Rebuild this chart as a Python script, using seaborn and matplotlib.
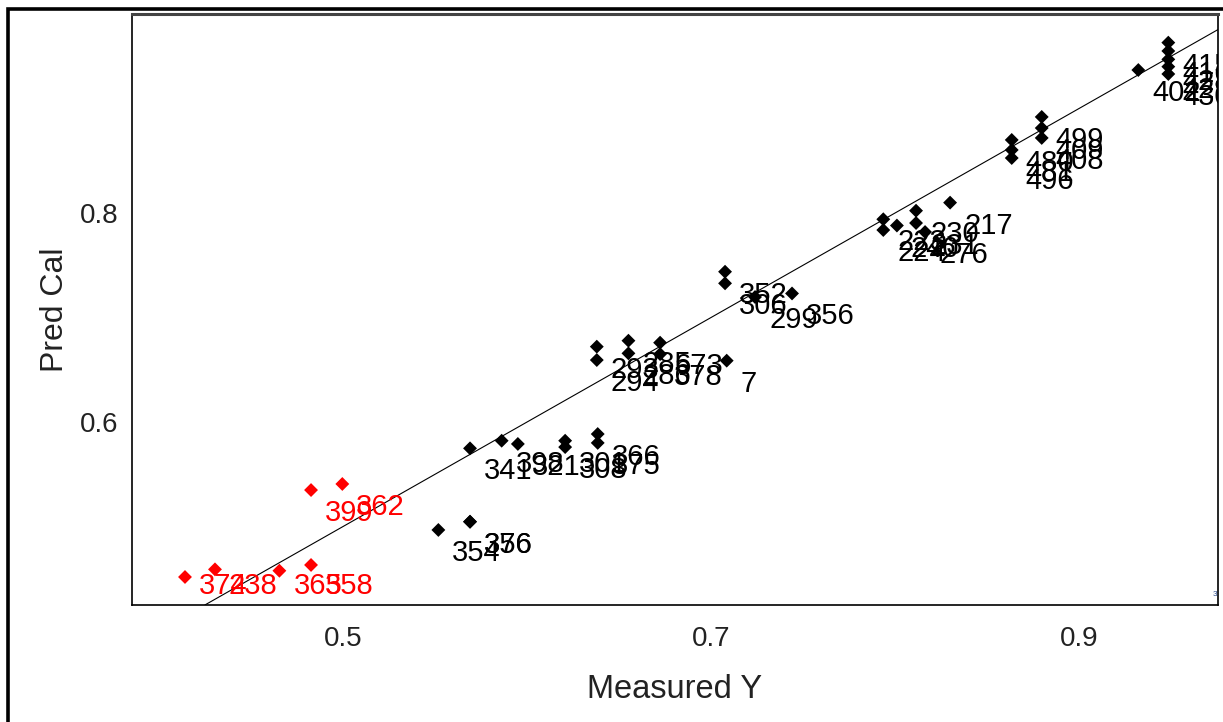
import numpy as np
import pandas as pd
import seaborn as sns
import matplotlib.pyplot as plt
from matplotlib.patches import Rectangle

# ---- data ----
measured = [0.4141, 0.4304, 0.4654, 0.4826, 0.4826, 0.4996,
            0.5518, 0.5690, 0.5690,
            0.5690, 0.5862, 0.5950, 0.6207, 0.6207, 0.6384, 0.6384,
            0.6379, 0.6379, 0.6551, 0.6551, 0.6723, 0.6723, 0.7085,
            0.7076, 0.7076, 0.7239, 0.7440,
            0.7936, 0.7936, 0.8114, 0.8114, 0.8163, 0.8299, 0.8010,
            0.8634, 0.8634, 0.8634, 0.8797, 0.8797, 0.8797,
            0.9322, 0.9485, 0.9485, 0.9485, 0.9485, 0.9485]
predicted = [0.4517, 0.4590, 0.4577, 0.4632, 0.5349, 0.5407,
             0.4967, 0.5046, 0.5046,
             0.5748, 0.5821, 0.5790, 0.5821, 0.5760, 0.5885, 0.5800,
             0.6721, 0.6593, 0.6778, 0.6657, 0.6759, 0.6650, 0.6587,
             0.7438, 0.7327, 0.7196, 0.7230,
             0.7940, 0.7837, 0.8022, 0.7904, 0.7818, 0.8099, 0.7880,
             0.8699, 0.8603, 0.8526, 0.8919, 0.8813, 0.8718,
             0.9368, 0.9630, 0.9550, 0.9470, 0.9400, 0.9330]
labels = ["374", "238", "365", "358", "399", "362",
          "354", "376", "356",
          "341", "398", "321", "301", "308", "366", "375",
          "293", "294", "285", "286", "673", "378", "7",
          "352", "306", "299", "356",
          "223", "224", "230", "231", "276", "217", "240",
          "480", "481", "496", "499", "409", "408",
          "402", "415", "416", "428", "429", "430"]
groups = ["outlier"] * 6 + ["calibration"] * 40

fit_slope = 1.0
fit_intercept = 0.0

x_major = [0.5, 0.7, 0.9]
x_minor = [0.4, 0.6, 0.8]
y_major = [0.6, 0.8]
y_minor = [0.5, 0.7, 0.9]
x_limits = (0.3853, 0.9755)
y_limits = (0.4249, 0.9904)

df = pd.DataFrame({"measured": measured, "predicted": predicted,
                   "label": labels, "group": groups})

sns.set_theme(style="white")
plt.rcParams["font.family"] = ["Liberation Sans", "DejaVu Sans"]

W, H = 1223, 722
fig = plt.figure(figsize=(W / 100, H / 100), dpi=100)
ax = fig.add_axes([132 / W, 1 - 605 / H, (1218 - 132) / W, (605 - 14) / H])

palette = {"calibration": "black", "outlier": "#ff0000"}
ax.axline((0, fit_intercept), slope=fit_slope, color="black", lw=0.8, zorder=2)
sns.scatterplot(data=df, x="measured", y="predicted", hue="group",
                palette=palette, marker="D", s=50, linewidth=0,
                legend=False, ax=ax, zorder=3)

ax.set_xlim(*x_limits)
ax.set_ylim(*y_limits)

# labels next to points (pixel offsets, kept inside the plot area)
fig.canvas.draw()
bottom_px = ax.transAxes.transform((0, 0))[1]
for _, r in df.iterrows():
    px, py = ax.transData.transform((r["measured"], r["predicted"]))
    top = py - 9
    if top - 21 < bottom_px + 12:
        top = bottom_px + 12 + 21
    ax.annotate(r["label"], (r["measured"], r["predicted"]),
                xytext=(14, top - py), textcoords="offset pixels",
                ha="left", va="top", fontsize=21,
                color=palette[r["group"]], zorder=4,
                annotation_clip=True, clip_on=True)

ax.set_xticks(x_major)
ax.set_xticks(x_minor, minor=True)
ax.set_yticks(y_major)
ax.set_yticks(y_minor, minor=True)
ax.set_xticklabels([f"{v:.1f}" for v in x_major])
ax.set_yticklabels([f"{v:.1f}" for v in y_major])
ax.tick_params(axis="both", which="both", direction="out", color="#222222",
               labelsize=20, labelcolor="#222222")
ax.tick_params(axis="x", which="both", length=9, width=1.2, pad=6)
ax.tick_params(axis="y", which="major", length=9, width=1.2, pad=1)
ax.tick_params(axis="y", which="minor", length=5, width=1.2)

ax.set_xlabel("Measured Y", fontsize=23.5, color="#222222", labelpad=16)
ax.set_ylabel("Pred Cal", fontsize=23, color="#222222", labelpad=7)

for name, sp in ax.spines.items():
    sp.set_color("black")
    sp.set_linewidth(1.2)
ax.spines["top"].set_color("#444444")
ax.spines["top"].set_linewidth(2.2)

ax.text(0.999, 0.012, "3", transform=ax.transAxes, fontsize=6,
        color="#2a4a8a", ha="right", va="bottom")

# outer frame of the picture
fig.add_artist(Rectangle((7.5 / W, -0.5), 2.0, 1.5 - 8.5 / H,
                         transform=fig.transFigure, fill=False,
                         lw=2.6, ec="black"))

fig.savefig("out.png", dpi=100)
